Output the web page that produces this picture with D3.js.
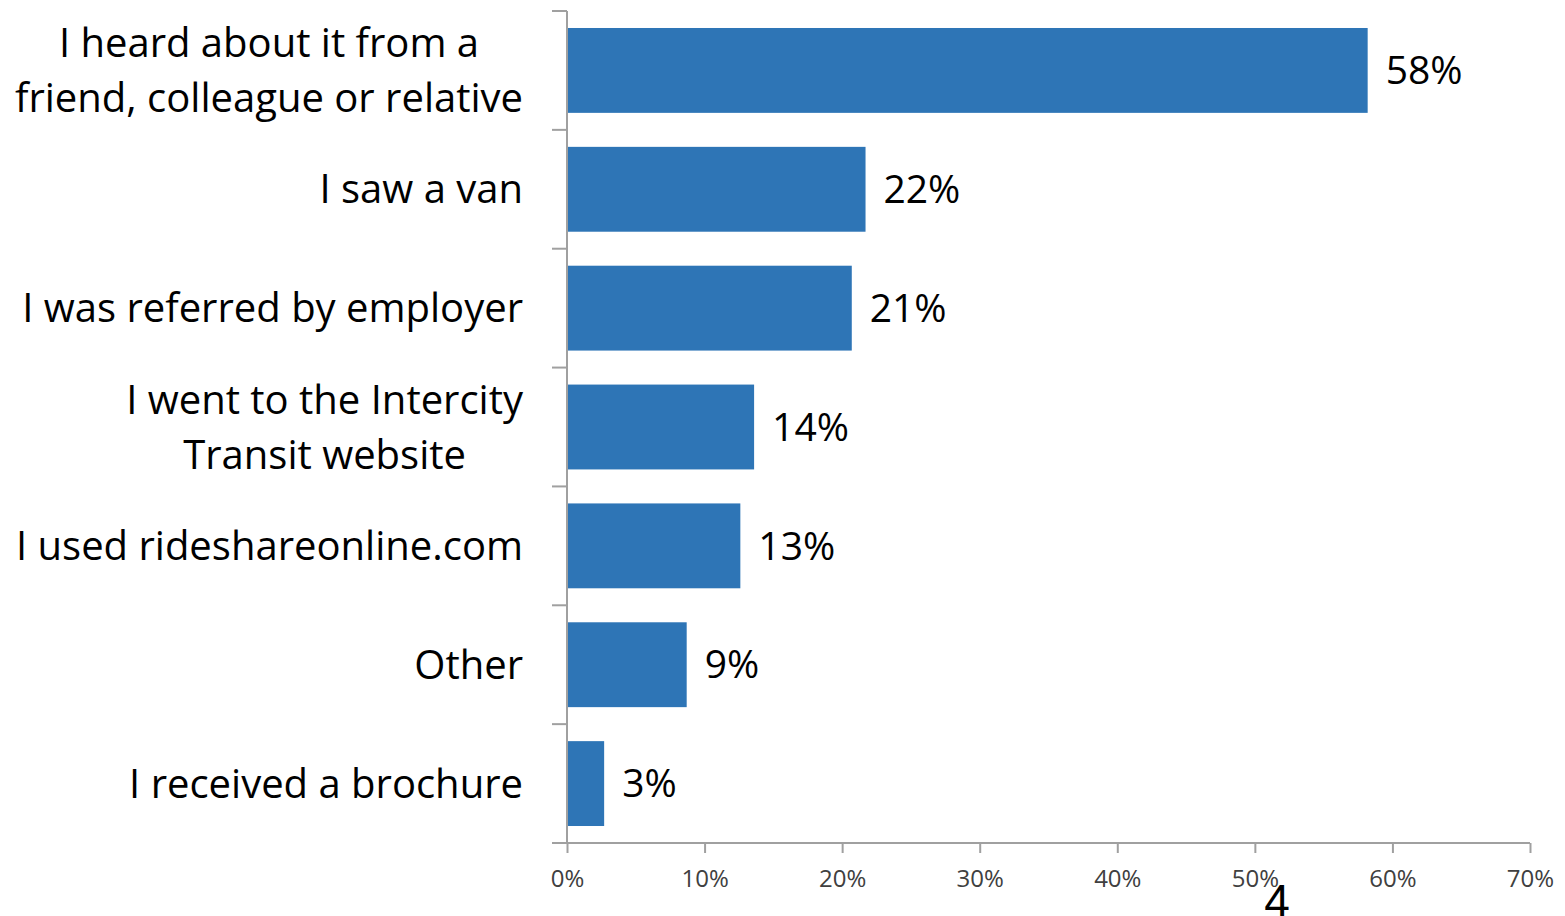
<!DOCTYPE html>
<html>
<head>
<meta charset="utf-8">
<script src="https://cdn.jsdelivr.net/npm/d3@7"></script>
<style>
  body { margin: 0; background: #fff; }
  svg { display: block; }
</style>
</head>
<body>
<svg id="chart"></svg>
<script>
// data
var categories = [
    "I heard about it from a\nfriend, colleague or relative",
    "I saw a van",
    "I was referred by employer",
    "I went to the Intercity\nTransit website",
    "I used rideshareonline.com",
    "Other",
    "I received a brochure"
];
var values = [0.582, 0.217, 0.207, 0.136, 0.126, 0.087, 0.027];
var tickValues = [0, 0.1, 0.2, 0.3, 0.4, 0.5, 0.6, 0.7];
var pageNumber = "4";

width = 1565;
height = 916;
margin = {left: 567, right: 35, top: 11, bottom: 73};
var fmt = d3.format(".0%");

svg = d3.select("#chart")
    .attr("width", width)
    .attr("height", height);

chart = svg.append("g")
    .attr("transform", "translate(" + margin.left + "," + margin.top + ")");

innerW = width - margin.left - margin.right;
innerH = height - margin.top - margin.bottom;

// scales
x = d3.scaleLinear()
    .domain([0, 0.7])
    .range([0, innerW]);
y = d3.scaleBand()
    .domain(categories)
    .range([0, innerH])
    .paddingInner(0.286)
    .paddingOuter(0.143);

// bars
chart.append("g")
    .selectAll("rect")
    .data(values)
    .enter().append("rect")
        .attr("x", 0)
        .attr("y", (d, i) => y(categories[i]))
        .attr("width", (d) => x(d))
        .attr("height", y.bandwidth())
        .attr("fill", "#2E75B6");

// value labels
chart.append("g")
    .selectAll("text")
    .data(values)
    .enter().append("text")
        .attr("x", (d) => x(d) + 18)
        .attr("y", (d, i) => y(categories[i]) + y.bandwidth() / 2)
        .attr("dy", ".35em")
        .attr("style", "font: 39px 'Open Sans', sans-serif; fill:#000")
        .text((d) => fmt(d));

// x axis
gx = chart.append("g")
    .attr("transform", "translate(0," + innerH + ")")
    .call(d3.axisBottom(x).tickValues(tickValues).tickFormat(fmt).tickSize(10).tickSizeOuter(10));
gx.select(".domain").remove();
gx.append("line")
    .attr("x1", -15).attr("x2", innerW)
    .attr("stroke", "#A0A0A0").attr("stroke-width", 2);
gx.selectAll(".tick line").attr("stroke", "#A0A0A0").attr("stroke-width", 2);
gx.selectAll(".tick text")
    .attr("y", 27)
    .attr("style", "font: 24px 'Open Sans', sans-serif; fill:#404040");

// y axis: line plus ticks between the bands
gy = chart.append("g");
gy.append("line")
    .attr("x1", 0).attr("x2", 0)
    .attr("y1", 0).attr("y2", innerH)
    .attr("stroke", "#A0A0A0").attr("stroke-width", 2);
gy.selectAll("line.sep")
    .data(categories)
    .enter().append("line")
        .attr("class", "sep")
        .attr("x1", -15).attr("x2", 0)
        .attr("y1", (d) => y(d) - y.step() * y.paddingInner() / 2)
        .attr("y2", (d) => y(d) - y.step() * y.paddingInner() / 2)
        .attr("stroke", "#A0A0A0").attr("stroke-width", 2);

// category labels: block right-aligned, lines centred within block
lineH = 55;
labels = chart.append("g")
    .selectAll("g")
    .data(categories)
    .enter().append("g");
labels.each(function(d) {
    var g = d3.select(this);
    var lines = d.split("\n");
    var cy = y(d) + y.bandwidth() / 2;
    var texts = lines.map(function(l, j) {
        return g.append("text")
            .attr("y", cy + (j - (lines.length - 1) / 2) * lineH)
            .attr("dy", ".35em")
            .attr("text-anchor", "middle")
            .attr("style", "font: 40px 'Open Sans', sans-serif; fill:#000")
            .text(l);
    });
    var maxW = d3.max(texts, (t) => t.node().getComputedTextLength());
    texts.forEach((t) => t.attr("x", -44 - maxW / 2));
});

// page number
svg.append("text")
    .attr("x", 1277)
    .attr("y", 917)
    .attr("text-anchor", "middle")
    .attr("style", "font: 46px 'Liberation Sans', sans-serif; fill:#000")
    .text(pageNumber);
</script>
</body>
</html>
